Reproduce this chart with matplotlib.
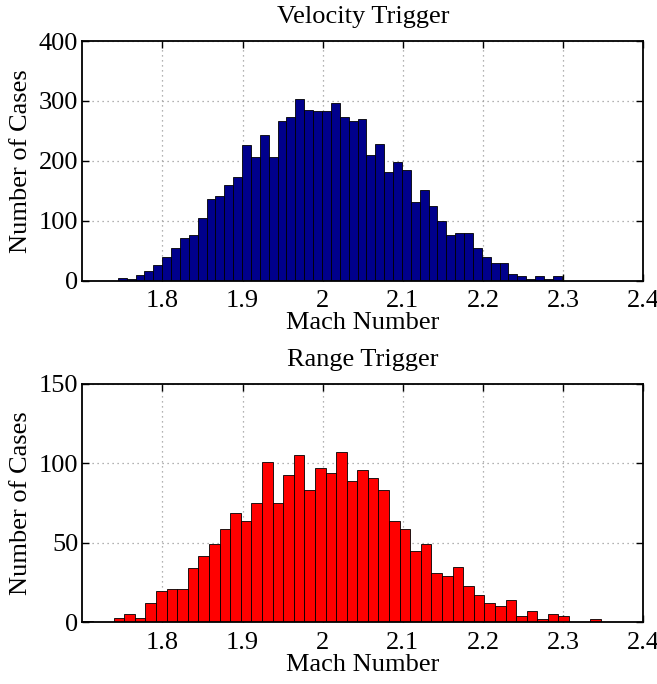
import numpy as np
import matplotlib
matplotlib.use('Agg')
import matplotlib.pyplot as plt

plt.rcParams['font.family'] = ['Liberation Serif', 'DejaVu Serif']

# velocity trigger histogram (50 bins)
vel_lo, vel_hi = 1.7442, 2.2982
vel_counts = [5, 3, 10, 16, 26, 40, 55, 72, 77, 105,
              136, 142, 159, 173, 226, 207, 243, 207, 266, 274,
              304, 285, 284, 283, 297, 273, 266, 270, 210, 229,
              181, 198, 184, 131, 151, 124, 100, 77, 80, 80,
              55, 40, 29, 29, 12, 8, 3, 8, 3, 8]

# range trigger histogram (49 bins)
rng_lo, rng_hi = 1.6995, 2.347
rng_counts = [1, 0, 0, 3, 5, 3, 12, 20, 21, 21,
              34, 42, 49, 59, 69, 64, 75, 101, 75, 93,
              105, 83, 97, 94, 107, 89, 96, 91, 83, 64,
              59, 45, 49, 31, 29, 35, 23, 17, 12, 10,
              14, 4, 7, 2, 5, 4, 0, 0, 2]

xticks = [1.8, 1.9, 2.0, 2.1, 2.2, 2.3, 2.4]
xticklabels = ['1.8', '1.9', '2', '2.1', '2.2', '2.3', '2.4']

fig = plt.figure(figsize=(6.57, 6.84), dpi=100)
ax1 = fig.add_axes([0.1253, 0.5896, 0.8539, 0.3504])
ax2 = fig.add_axes([0.1253, 0.0902, 0.8539, 0.3484])

fs = 19


def draw(ax, lo, hi, counts, color, yticks, title):
    edges = np.linspace(lo, hi, len(counts) + 1)
    ax.bar(edges[:-1], counts, width=np.diff(edges), align='edge',
           color=color, edgecolor='black', linewidth=0.6, clip_on=True)
    ax.set_xlim(1.7, 2.4)
    ax.set_ylim(yticks[0], yticks[-1])
    ax.set_xticks(xticks)
    ax.set_xticklabels(xticklabels)
    ax.set_yticks(yticks)
    ax.grid(True, linestyle=(0, (1, 3)), color='#999999', linewidth=0.9)
    ax.set_axisbelow(True)
    ax.tick_params(direction='in', top=True, right=True, length=5,
                   width=1.0, labelsize=fs)
    ax.tick_params(axis='x', pad=7)
    ax.tick_params(axis='y', pad=3)
    for s in ax.spines.values():
        s.set_linewidth(1.3)
    ax.set_xlabel('Mach Number', fontsize=fs, labelpad=0)
    ax.set_ylabel('Number of Cases', fontsize=fs, labelpad=5)
    ax.set_title(title, fontsize=fs, pad=13)


draw(ax1, vel_lo, vel_hi, vel_counts, '#00008c', [0, 100, 200, 300, 400],
     'Velocity Trigger')
draw(ax2, rng_lo, rng_hi, rng_counts, '#ff0000', [0, 50, 100, 150],
     'Range Trigger')

fig.savefig('out.png', dpi=100)
